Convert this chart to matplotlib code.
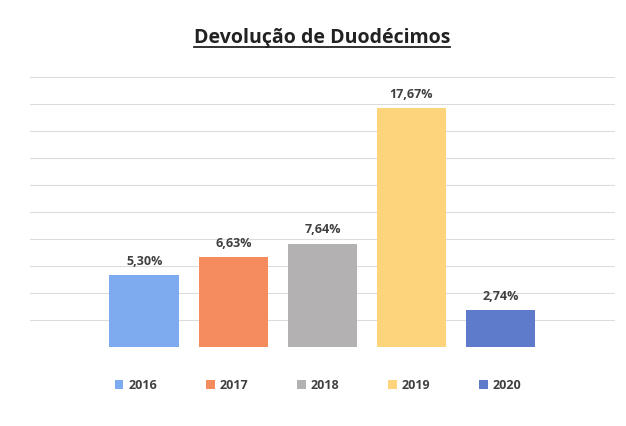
import matplotlib
matplotlib.use("Agg")
import matplotlib.pyplot as plt
from matplotlib.lines import Line2D
from matplotlib.patches import Patch

years = ["2016", "2017", "2018", "2019", "2020"]
values = [5.30, 6.63, 7.64, 17.67, 2.74]
labels = ["5,30%", "6,63%", "7,64%", "17,67%", "2,74%"]
colors = ["#7eaaf0", "#f58c5e", "#b3b1b1", "#fdd37c", "#5e7bcb"]

plt.rcParams["font.family"] = ["Open Sans", "DejaVu Sans"]

fig = plt.figure(figsize=(6.26, 4.26), dpi=100)
ax = fig.add_axes([0.048, 0.1854, 0.934, 0.634])

x = range(len(years))
bars = ax.bar(x, values, width=0.78, color=colors, zorder=2)

ax.set_ylim(0, 20)
ax.set_xlim(-1.28, 5.28)
ax.set_yticks(range(0, 21, 2))
ax.yaxis.grid(True, color="#dcdcdc", linewidth=0.8, zorder=0)
ax.tick_params(left=False, bottom=False, labelleft=False, labelbottom=False)
for s in ax.spines.values():
    s.set_visible(False)

for i, (v, lab) in enumerate(zip(values, labels)):
    ax.text(i, v + 0.55, lab, ha="center", va="bottom", fontsize=9,
            fontweight="bold", color="#404040")

# title with underline
t = fig.text(0.514, 0.91, "Devolução de Duodécimos", ha="center", va="center",
             fontsize=14, fontweight="bold", color="#222222")
fig.canvas.draw()
bb = t.get_window_extent().transformed(fig.transFigure.inverted())
fig.add_artist(Line2D([bb.x0, bb.x1], [bb.y0 + 0.004, bb.y0 + 0.004],
                      transform=fig.transFigure, color="#222222", linewidth=1.3))

handles = [Patch(facecolor=c, edgecolor="none") for c in colors]
fig.legend(handles, years, loc="center", bbox_to_anchor=(0.508, 0.095), ncol=5,
           frameon=False, handlelength=0.7, handleheight=0.7,
           columnspacing=3.9, handletextpad=0.4,
           prop={"weight": "bold", "size": 9})
for txt in fig.legends[0].get_texts():
    txt.set_color("#404040")

fig.savefig("out.png", dpi=100, facecolor="white")
